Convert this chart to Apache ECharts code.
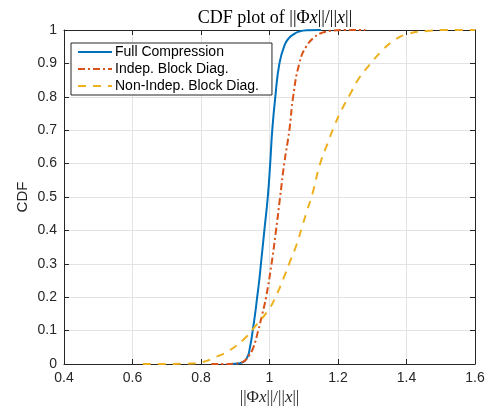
<!DOCTYPE html>
<html>
<head>
<meta charset="utf-8">
<script src="https://cdn.jsdelivr.net/npm/echarts@6/dist/echarts.min.js"></script>
<style>
  html, body { margin: 0; padding: 0; background: #fff; }
  #chart { width: 492px; height: 408px; }
</style>
</head>
<body>
<div id="chart"></div>
<script>
// values
var seriesNames = ['Full Compression', 'Indep. Block Diag.', 'Non-Indep. Block Diag.'];

var fullX = [0.88, 0.90, 0.92, 0.935, 0.943, 0.951, 0.958, 0.964, 0.970, 0.975, 0.985, 0.995, 1.002, 1.008, 1.017, 1.029, 1.045, 1.058, 1.069, 1.085, 1.109, 1.15];
var fullY = [0, 0.001, 0.004, 0.02, 0.05, 0.1, 0.15, 0.2, 0.25, 0.3, 0.4, 0.5, 0.6, 0.7, 0.8, 0.9, 0.957, 0.977, 0.986, 0.995, 0.9995, 1];

var indepX = [0.83, 0.87, 0.90, 0.915, 0.928, 0.94, 0.953, 0.967, 0.979, 0.990, 1.006, 1.019, 1.031, 1.043, 1.058, 1.069, 1.087, 1.107, 1.133, 1.155, 1.18, 1.22, 1.28];
var indepY = [0, 0, 0.001, 0.004, 0.01, 0.025, 0.05, 0.1, 0.15, 0.2, 0.3, 0.4, 0.5, 0.6, 0.7, 0.8, 0.9, 0.95, 0.98, 0.992, 0.998, 1, 1];

var nonIndepX = [0.63, 0.70, 0.76, 0.80, 0.846, 0.885, 0.928, 0.96, 0.997, 1.016, 1.040, 1.060, 1.079, 1.094, 1.109, 1.126, 1.147, 1.172, 1.191, 1.211, 1.235, 1.259, 1.293, 1.323, 1.361, 1.40, 1.459, 1.52, 1.6];
var nonIndepY = [0, 0, 0.001, 0.005, 0.022, 0.042, 0.077, 0.115, 0.162, 0.197, 0.254, 0.307, 0.357, 0.407, 0.457, 0.512, 0.597, 0.667, 0.717, 0.762, 0.807, 0.852, 0.897, 0.932, 0.967, 0.987, 0.997, 1, 1];

var xTicks = [0.4, 0.6, 0.8, 1, 1.2, 1.4, 1.6];
var yTicks = [0, 0.1, 0.2, 0.3, 0.4, 0.5, 0.6, 0.7, 0.8, 0.9, 1];

function pairs(xs, ys) {
  return xs.map(function (x, i) { return [x, ys[i]]; });
}

var axisCol = '#262626';
var sans = 'Liberation Sans';
var serif = 'Liberation Serif';

var chart = echarts.init(document.getElementById('chart'));

function xAx(pos, labels) {
  return {
    type: 'value', position: pos,
    min: xTicks[0], max: xTicks[xTicks.length - 1], interval: 0.2,
    axisLine: { show: true, onZero: false, lineStyle: { color: axisCol, width: 1 } },
    axisTick: { show: true, inside: true, length: 5, lineStyle: { color: axisCol } },
    axisLabel: { show: labels, margin: 7, color: axisCol, fontFamily: sans, fontSize: 14 },
    splitLine: { show: labels, lineStyle: { color: '#e3e3e3', width: 1 } }
  };
}
function yAx(pos, labels) {
  return {
    type: 'value', position: pos,
    min: yTicks[0], max: yTicks[yTicks.length - 1], interval: 0.1,
    axisLine: { show: true, onZero: false, lineStyle: { color: axisCol, width: 1 } },
    axisTick: { show: true, inside: true, length: 5, lineStyle: { color: axisCol } },
    axisLabel: { show: labels, margin: 7, color: axisCol, fontFamily: sans, fontSize: 14,
      formatter: function (v) { return String(Math.round(v * 10) / 10); } },
    splitLine: { show: labels, lineStyle: { color: '#e3e3e3', width: 1 } }
  };
}

var bottomX = xAx('bottom', true);
bottomX.name = '{n|||Φ}{i|x}{n|||/||}{i|x}{n|||}';
bottomX.nameLocation = 'middle';
bottomX.nameGap = 25;
bottomX.nameMoveOverlap = false;
bottomX.nameTextStyle = {
  rich: {
    n: { fontFamily: serif, fontSize: 17, color: axisCol },
    i: { fontFamily: serif, fontSize: 17, fontStyle: 'italic', color: axisCol }
  }
};

var leftY = yAx('left', true);
leftY.name = 'CDF';
leftY.nameLocation = 'middle';
leftY.nameGap = 34;
leftY.nameMoveOverlap = false;
leftY.nameTextStyle = { fontFamily: sans, fontSize: 15, color: axisCol };

var option = {
  animation: false,
  backgroundColor: '#fff',
  title: {
    text: '{n|CDF plot of ||Φ}{i|x}{n|||/||}{i|x}{n|||}',
    left: 270, textAlign: 'center', top: 4,
    textStyle: {
      fontWeight: 'normal',
      rich: {
        n: { fontFamily: serif, fontSize: 18, fontWeight: 'normal', color: '#000' },
        i: { fontFamily: serif, fontSize: 18, fontWeight: 'normal', fontStyle: 'italic', color: '#000' }
      }
    }
  },
  grid: { left: 64, right: 17, top: 30, bottom: 44, containLabel: false, outerBoundsMode: 'none' },
  legend: {
    orient: 'vertical', left: 71, top: 43,
    data: seriesNames,
    itemWidth: 34, itemHeight: 12, itemGap: 3,
    padding: [2, 13, 2, 6],
    backgroundColor: '#fff', borderColor: '#262626', borderWidth: 1,
    itemStyle: { opacity: 0 },
    textStyle: { fontFamily: sans, fontSize: 14, color: '#000', padding: [0, 0, 0, -2] }
  },
  xAxis: [bottomX, xAx('top', false)],
  yAxis: [leftY, yAx('right', false)],
  series: [
    {
      name: seriesNames[0], type: 'line', data: pairs(fullX, fullY),
      showSymbol: false, symbol: 'none', smooth: 0.5,
      lineStyle: { color: '#0072BD', width: 2 }, itemStyle: { color: '#0072BD' }
    },
    {
      name: seriesNames[1], type: 'line', data: pairs(indepX, indepY),
      showSymbol: false, symbol: 'none', smooth: 0.5,
      lineStyle: { color: '#D95319', width: 2, type: [7, 3, 2, 3] }, itemStyle: { color: '#D95319' }
    },
    {
      name: seriesNames[2], type: 'line', data: pairs(nonIndepX, nonIndepY),
      showSymbol: false, symbol: 'none', smooth: 0.5,
      lineStyle: { color: '#EDB120', width: 2, type: [8, 7] }, itemStyle: { color: '#EDB120' }
    }
  ]
};

chart.setOption(option);
</script>
</body>
</html>
